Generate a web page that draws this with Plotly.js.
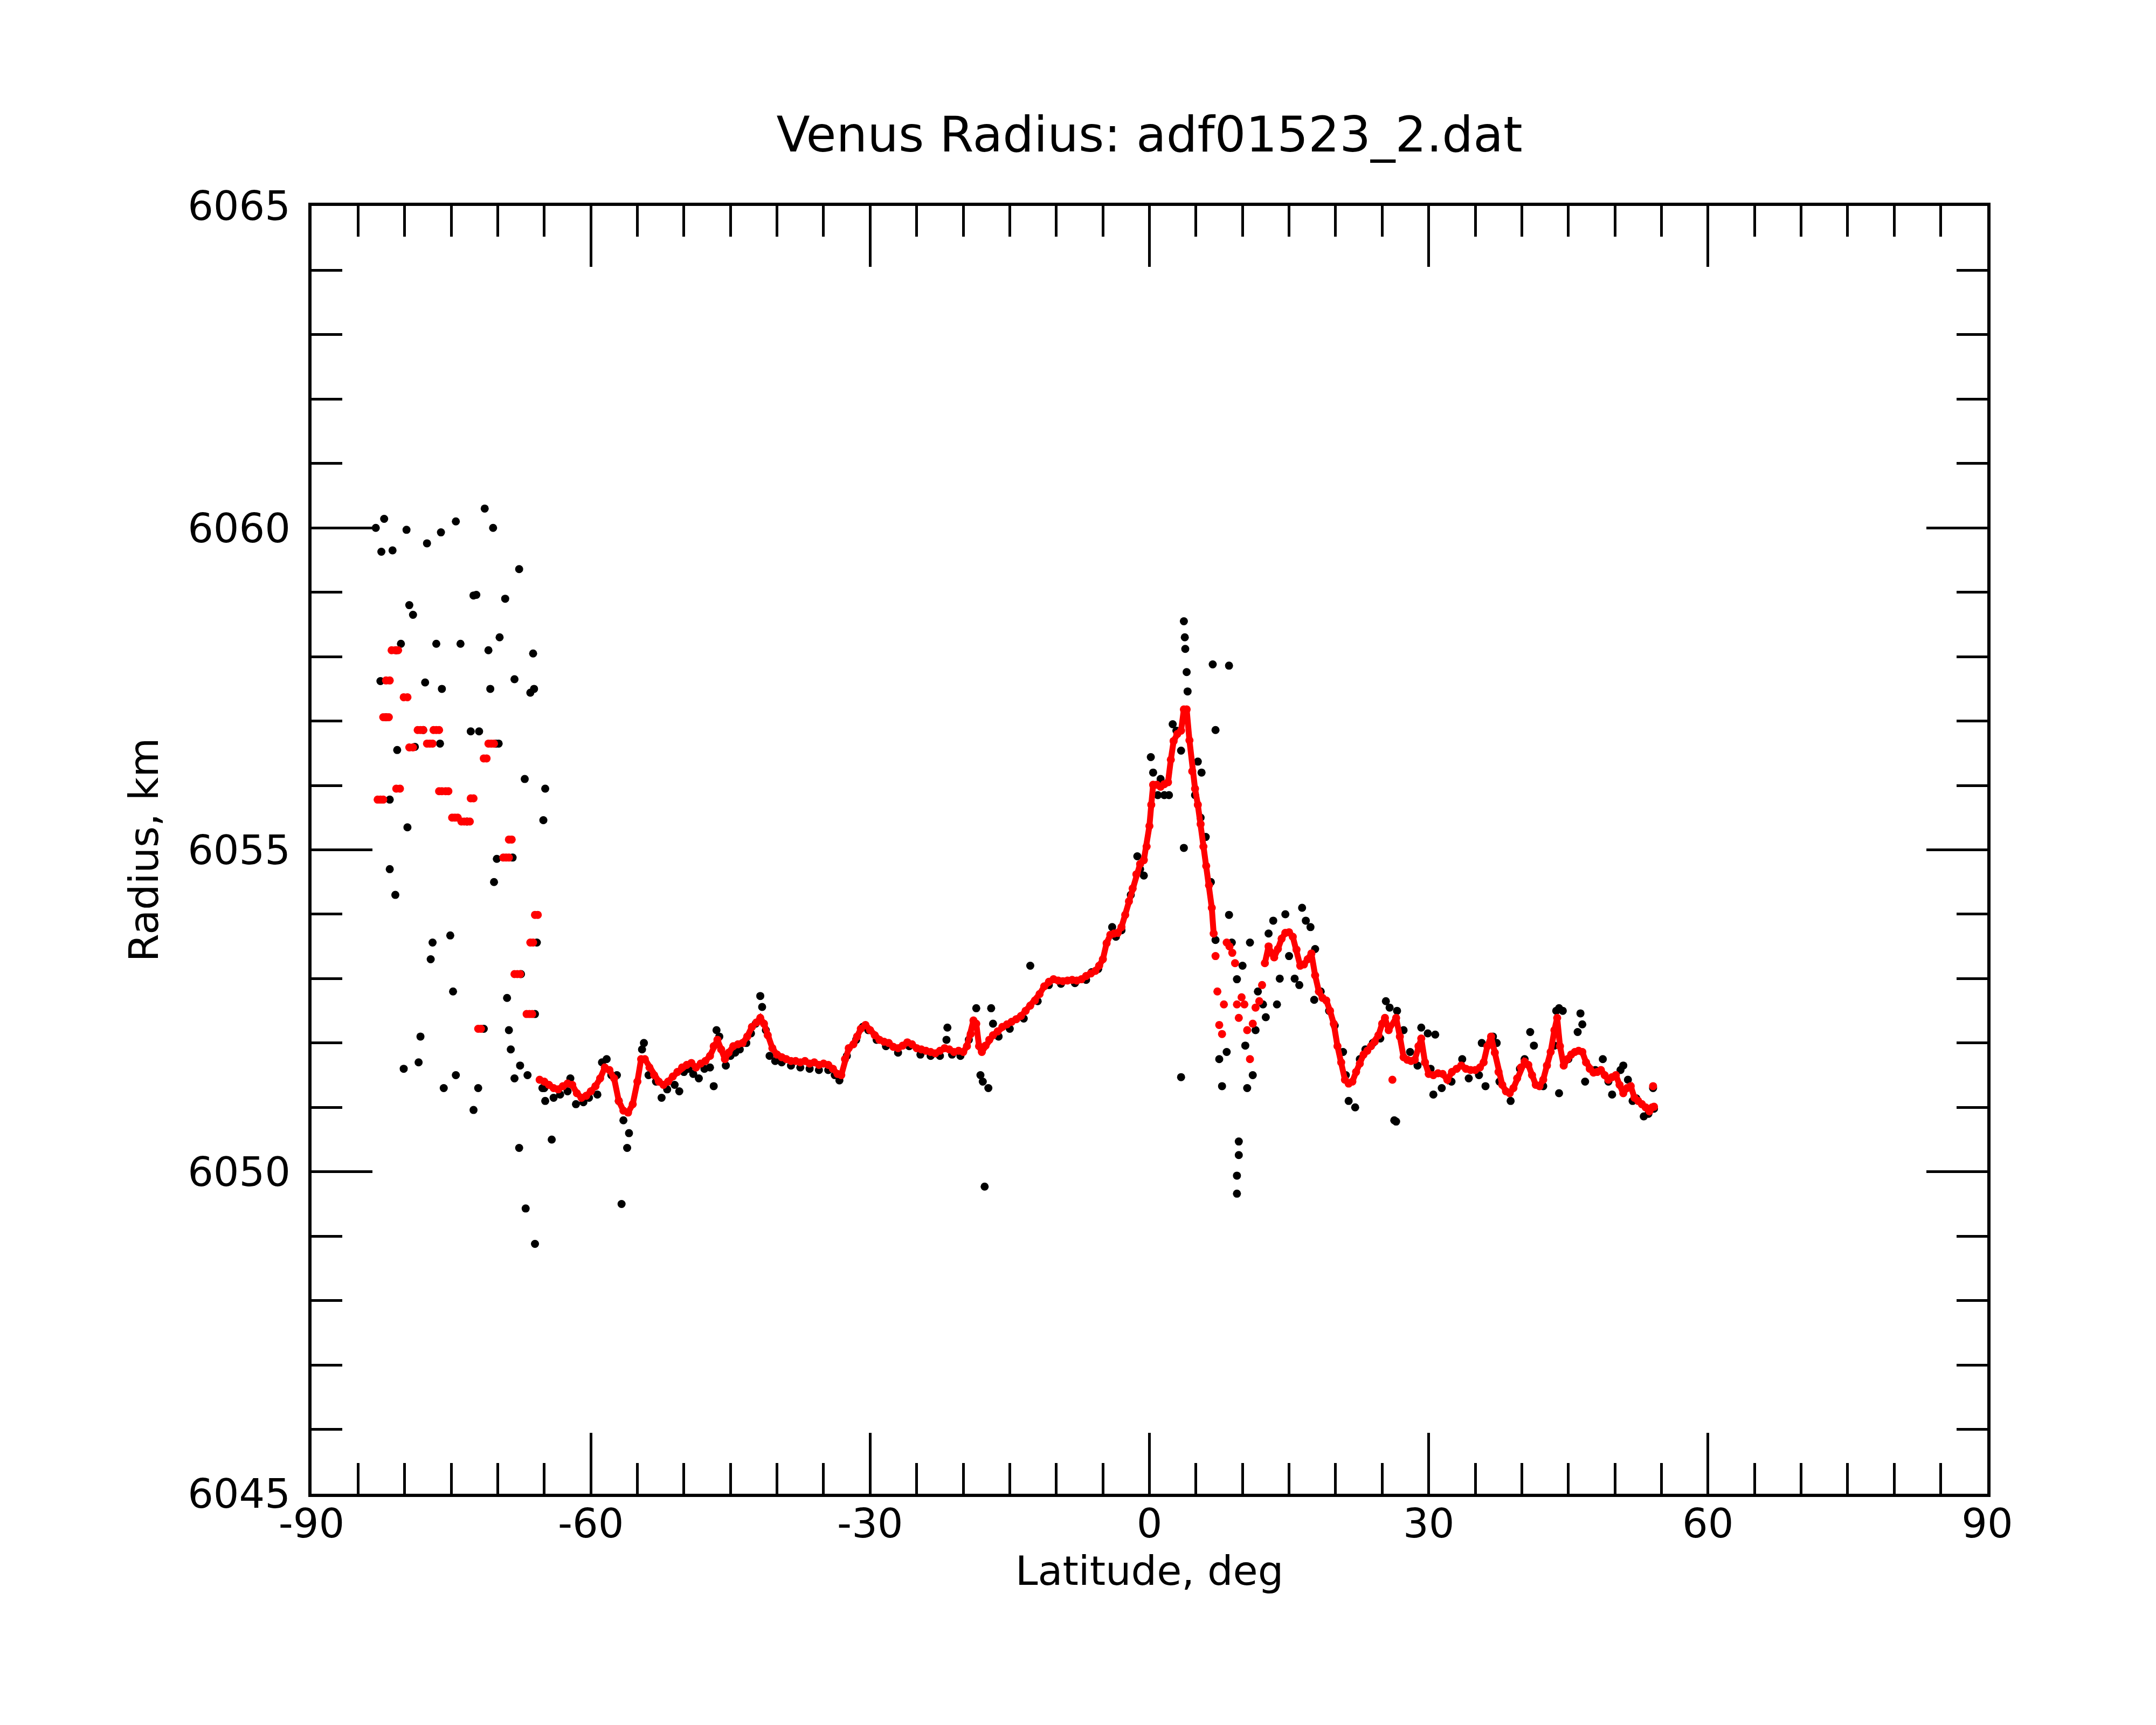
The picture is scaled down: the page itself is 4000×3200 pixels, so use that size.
<!DOCTYPE html>
<html>
<head>
<meta charset="utf-8">
<script src="https://cdn.plot.ly/plotly-3.0.1.min.js"></script>
<style>
  body { margin: 0; background: #ffffff; }
  #radius-chart { width: 4000px; height: 3200px; }
</style>
</head>
<body>
<div id="radius-chart"></div>
<script>
// tick labels
const xTickVals = [-90, -60, -30, 0, 30, 60, 90];
const xTickText = ["-90", "-60", "-30", "0", "30", "60", "90"];
const yTickVals = [6045, 6050, 6055, 6060, 6065];
const yTickText = ["6045", "6050", "6055", "6060", "6065"];

// smoothed radius (red), scattered dots: [latitude, radius]
const redDotPts = [
  // south end clusters
  [-82.9, 6055.78], [-82.6, 6055.78], [-82.3, 6055.78],
  [-82.3, 6057.06], [-82.0, 6057.06], [-81.7, 6057.06],
  [-82.0, 6057.63], [-81.6, 6057.63],
  [-81.4, 6058.10], [-81.0, 6058.10], [-80.7, 6058.10],
  [-80.9, 6055.95], [-80.5, 6055.95],
  [-80.1, 6057.37], [-79.7, 6057.37],
  [-79.5, 6056.59], [-79.1, 6056.59],
  [-78.6, 6056.86], [-78.3, 6056.86], [-78.0, 6056.86],
  [-77.6, 6056.65], [-77.3, 6056.65], [-77.0, 6056.65],
  [-76.9, 6056.86], [-76.6, 6056.86], [-76.3, 6056.86],
  [-76.3, 6055.91], [-76.0, 6055.91],
  [-75.6, 6055.91], [-75.3, 6055.91],
  [-74.9, 6055.50], [-74.6, 6055.50], [-74.3, 6055.50],
  [-73.9, 6055.44], [-73.6, 6055.44], [-73.3, 6055.44], [-73.0, 6055.44],
  [-72.9, 6055.80], [-72.6, 6055.80],
  [-72.1, 6052.22], [-71.8, 6052.22],
  [-71.5, 6056.42], [-71.2, 6056.42],
  [-71.0, 6056.65], [-70.7, 6056.65], [-70.4, 6056.65],
  [-69.4, 6054.88], [-69.1, 6054.88], [-68.8, 6054.88],
  [-68.8, 6055.16], [-68.5, 6055.16],
  [-68.2, 6053.07], [-67.9, 6053.07], [-67.6, 6053.07],
  [-66.5, 6053.56], [-66.2, 6053.56],
  [-66.0, 6053.99], [-65.7, 6053.99],
  [-66.9, 6052.45], [-66.6, 6052.45], [-66.3, 6052.45],
  // broken stretch north of the equatorial peak
  [7.1, 6053.35], [7.3, 6052.80], [7.5, 6052.28], [7.8, 6052.14], [8.0, 6052.60],
  [8.3, 6053.56], [8.6, 6053.50], [8.9, 6053.40], [9.2, 6053.24], [9.4, 6052.60],
  [9.6, 6052.39], [9.9, 6052.71], [10.2, 6052.60], [10.5, 6052.20], [10.8, 6051.75],
  [11.1, 6052.30], [11.4, 6052.55], [11.8, 6052.65], [12.1, 6052.90],
  // single low and high dots
  [26.1, 6051.43], [54.1, 6051.33]
];

// smoothed radius (red), continuous track south of 7 deg: [latitude, radius]
const redTrackSouthPts = [
  [-65.5, 6051.43], [-65.0, 6051.40], [-64.5, 6051.35], [-64.0, 6051.30], [-63.5, 6051.28],
  [-63.0, 6051.33], [-62.5, 6051.37], [-62.0, 6051.35], [-61.5, 6051.22], [-61.0, 6051.15],
  [-60.5, 6051.18], [-60.0, 6051.25], [-59.5, 6051.33], [-59.0, 6051.45], [-58.5, 6051.62],
  [-58.0, 6051.58], [-57.5, 6051.45], [-57.0, 6051.10], [-56.5, 6050.95], [-56.0, 6050.92],
  [-55.5, 6051.05], [-55.0, 6051.40], [-54.6, 6051.75], [-54.2, 6051.75], [-53.7, 6051.62],
  [-53.2, 6051.50], [-52.7, 6051.40], [-52.2, 6051.35], [-51.7, 6051.40], [-51.2, 6051.48],
  [-50.7, 6051.55], [-50.2, 6051.62], [-49.7, 6051.66], [-49.2, 6051.69], [-48.7, 6051.62],
  [-48.2, 6051.68], [-47.7, 6051.72], [-47.2, 6051.80], [-46.8, 6051.95], [-46.4, 6052.05],
  [-46.0, 6051.90], [-45.6, 6051.75], [-45.2, 6051.85], [-44.7, 6051.95], [-44.2, 6051.98],
  [-43.7, 6052.00], [-43.2, 6052.10], [-42.7, 6052.25], [-42.2, 6052.32], [-41.8, 6052.39],
  [-41.4, 6052.30], [-41.0, 6052.12], [-40.5, 6051.92], [-40.0, 6051.82], [-39.5, 6051.78],
  [-39.0, 6051.75], [-38.5, 6051.72], [-38.0, 6051.72], [-37.5, 6051.70], [-37.0, 6051.72],
  [-36.5, 6051.68], [-36.0, 6051.70], [-35.5, 6051.66], [-35.0, 6051.68], [-34.5, 6051.66],
  [-34.0, 6051.60], [-33.5, 6051.52], [-33.1, 6051.50], [-32.7, 6051.75], [-32.3, 6051.92],
  [-31.8, 6051.98], [-31.4, 6052.10], [-31.0, 6052.22], [-30.5, 6052.28], [-30.0, 6052.20],
  [-29.5, 6052.12], [-29.0, 6052.05], [-28.5, 6052.02], [-28.0, 6052.00], [-27.5, 6051.94],
  [-27.0, 6051.92], [-26.5, 6051.96], [-26.0, 6052.01], [-25.5, 6051.98], [-25.0, 6051.92],
  [-24.5, 6051.90], [-24.0, 6051.88], [-23.5, 6051.86], [-23.0, 6051.84], [-22.5, 6051.88],
  [-22.0, 6051.92], [-21.5, 6051.90], [-21.0, 6051.86], [-20.5, 6051.88], [-20.0, 6051.86],
  [-19.6, 6051.95], [-19.2, 6052.14], [-18.9, 6052.35], [-18.6, 6052.30], [-18.3, 6051.95],
  [-18.0, 6051.86], [-17.6, 6051.96], [-17.2, 6052.05], [-16.8, 6052.12], [-16.3, 6052.18],
  [-15.8, 6052.25], [-15.3, 6052.29], [-14.8, 6052.33], [-14.3, 6052.37], [-13.8, 6052.42],
  [-13.3, 6052.50], [-12.8, 6052.58], [-12.3, 6052.66], [-11.8, 6052.76], [-11.3, 6052.88],
  [-10.8, 6052.95], [-10.3, 6052.99], [-9.8, 6052.97], [-9.3, 6052.96], [-8.8, 6052.97],
  [-8.3, 6052.98], [-7.8, 6052.97], [-7.3, 6052.99], [-6.8, 6053.04], [-6.3, 6053.08],
  [-5.8, 6053.12], [-5.4, 6053.20], [-5.0, 6053.30], [-4.6, 6053.55], [-4.2, 6053.68],
  [-3.8, 6053.70], [-3.4, 6053.71], [-3.0, 6053.80], [-2.6, 6053.99], [-2.2, 6054.20],
  [-1.8, 6054.40], [-1.4, 6054.62], [-1.0, 6054.78], [-0.6, 6054.84], [-0.3, 6055.05],
  [0.0, 6055.37], [0.2, 6055.70], [0.4, 6056.01], [0.8, 6056.01], [1.2, 6055.98],
  [1.6, 6056.02], [2.0, 6056.05], [2.3, 6056.40], [2.6, 6056.69], [3.0, 6056.80],
  [3.4, 6056.85], [3.7, 6057.18], [4.0, 6057.18], [4.3, 6056.70], [4.6, 6056.22],
  [4.9, 6055.95], [5.2, 6055.70], [5.5, 6055.40], [5.8, 6055.05], [6.1, 6054.75],
  [6.4, 6054.45], [6.7, 6054.10], [6.9, 6053.70]
];

// smoothed radius (red), continuous track north of 12 deg: [latitude, radius]
const redTrackNorthPts = [
  [12.4, 6053.24], [12.8, 6053.50], [13.1, 6053.40],
  [13.4, 6053.33], [13.8, 6053.46], [14.2, 6053.62], [14.6, 6053.71], [15.0, 6053.72],
  [15.4, 6053.65], [15.8, 6053.45], [16.2, 6053.20], [16.6, 6053.22], [17.0, 6053.30],
  [17.4, 6053.39], [17.8, 6053.05], [18.2, 6052.80], [18.6, 6052.70], [19.0, 6052.66],
  [19.4, 6052.50], [19.8, 6052.30], [20.2, 6051.95], [20.6, 6051.70], [21.0, 6051.43],
  [21.4, 6051.37], [21.8, 6051.40], [22.2, 6051.55], [22.6, 6051.68], [23.0, 6051.82],
  [23.4, 6051.88], [23.8, 6051.95], [24.2, 6052.02], [24.6, 6052.12], [25.0, 6052.30],
  [25.3, 6052.39], [25.7, 6052.20], [26.5, 6052.39], [26.9, 6052.10],
  [27.3, 6051.78], [27.7, 6051.74], [28.1, 6051.72], [28.5, 6051.74], [28.9, 6051.95],
  [29.2, 6052.07], [29.6, 6051.70], [30.0, 6051.52], [30.5, 6051.50], [31.0, 6051.53],
  [31.5, 6051.52], [32.0, 6051.43], [32.5, 6051.55], [33.0, 6051.60], [33.5, 6051.65],
  [34.0, 6051.60], [34.5, 6051.58], [35.0, 6051.58], [35.5, 6051.62], [35.9, 6051.70],
  [36.3, 6051.95], [36.7, 6052.10], [37.1, 6051.85], [37.5, 6051.55], [37.9, 6051.35],
  [38.3, 6051.25], [38.7, 6051.22], [39.1, 6051.30], [39.5, 6051.45], [39.9, 6051.62],
  [40.3, 6051.71], [40.7, 6051.66], [41.1, 6051.50], [41.5, 6051.35], [41.9, 6051.33],
  [42.3, 6051.43], [42.7, 6051.65], [43.1, 6051.86], [43.5, 6052.20], [43.8, 6052.39],
  [44.1, 6051.95], [44.5, 6051.65], [44.9, 6051.75], [45.3, 6051.82], [45.7, 6051.86],
  [46.1, 6051.88], [46.5, 6051.86], [46.9, 6051.70], [47.3, 6051.60], [47.7, 6051.54],
  [48.1, 6051.55], [48.5, 6051.58], [48.9, 6051.50], [49.3, 6051.43], [49.7, 6051.47],
  [50.1, 6051.50], [50.5, 6051.35], [50.9, 6051.22], [51.3, 6051.30], [51.7, 6051.33],
  [52.1, 6051.15], [52.5, 6051.10], [52.9, 6051.05], [53.3, 6051.00], [53.7, 6050.94],
  [54.0, 6051.00], [54.2, 6051.01]
];

// raw radius samples (black): [latitude, radius]
const blackPts = [
  // south end scatter
  [-83.1, 6060.00], [-82.2, 6060.14], [-82.5, 6059.63], [-81.3, 6059.65], [-79.8, 6059.97],
  [-77.6, 6059.76], [-76.1, 6059.93], [-74.5, 6060.10], [-71.4, 6060.30], [-70.5, 6060.00],
  [-72.6, 6058.95], [-72.3, 6058.96], [-69.2, 6058.90], [-67.7, 6059.36], [-79.5, 6058.80],
  [-79.1, 6058.65], [-80.4, 6058.20], [-80.9, 6058.10], [-76.6, 6058.20], [-74.0, 6058.20],
  [-71.0, 6058.10], [-69.8, 6058.30], [-66.2, 6058.05], [-77.8, 6057.60], [-76.0, 6057.50],
  [-70.8, 6057.50], [-68.2, 6057.65], [-66.5, 6057.44], [-66.1, 6057.50], [-72.9, 6056.84],
  [-72.0, 6056.84], [-69.9, 6056.65], [-64.9, 6055.95], [-67.1, 6056.10], [-81.6, 6055.78],
  [-65.1, 6055.46], [-79.7, 6055.35], [-70.1, 6054.86], [-70.4, 6054.50], [-81.6, 6054.70],
  [-81.0, 6054.30], [-77.0, 6053.56], [-77.2, 6053.30], [-75.1, 6053.67], [-74.8, 6052.80],
  [-69.0, 6052.70], [-68.8, 6052.20], [-68.6, 6051.90], [-67.6, 6051.65], [-78.3, 6052.10],
  [-78.5, 6051.70], [-80.1, 6051.60], [-74.5, 6051.50], [-75.8, 6051.30], [-72.1, 6051.30],
  [-72.6, 6050.96], [-67.7, 6050.37], [-67.0, 6049.43], [-66.0, 6048.88], [-64.2, 6050.50],
  [-64.9, 6051.10], [-65.2, 6051.30], [-66.8, 6051.50], [-68.2, 6051.45],
  [-82.0, 6057.06], [-80.8, 6056.55], [-78.0, 6056.86], [-76.2, 6056.65], [-73.3, 6055.44],
  [-71.5, 6052.22], [-70.2, 6056.65], [-68.4, 6054.88], [-67.5, 6053.07], [-65.8, 6053.56],
  [-66.0, 6052.45], [-82.6, 6057.62], [-78.9, 6056.60],
  // southern plains
  [-65.0, 6051.30], [-64.0, 6051.15], [-63.3, 6051.20], [-62.5, 6051.25], [-62.2, 6051.45],
  [-61.6, 6051.05], [-60.8, 6051.08], [-60.2, 6051.15], [-59.3, 6051.20], [-58.8, 6051.70],
  [-58.3, 6051.75], [-57.8, 6051.50], [-57.2, 6051.50], [-56.7, 6049.50], [-56.1, 6050.37],
  [-55.9, 6050.60], [-56.5, 6050.80], [-57.0, 6051.10], [-54.3, 6052.00], [-54.5, 6051.90],
  [-53.8, 6051.50], [-53.0, 6051.40], [-52.4, 6051.15], [-51.8, 6051.28], [-51.0, 6051.35],
  [-50.5, 6051.25], [-50.0, 6051.55], [-49.5, 6051.60], [-49.0, 6051.52], [-48.4, 6051.45],
  [-47.8, 6051.60], [-47.2, 6051.62], [-46.8, 6051.33], [-46.5, 6052.20], [-46.2, 6052.10],
  [-45.5, 6051.65], [-45.0, 6051.80], [-44.5, 6051.85], [-44.0, 6051.90], [-43.3, 6052.00],
  [-42.8, 6052.15], [-42.3, 6052.30], [-41.8, 6052.73], [-41.6, 6052.56], [-41.2, 6052.20],
  [-40.8, 6051.80], [-40.2, 6051.72], [-39.5, 6051.70], [-38.5, 6051.65], [-37.5, 6051.62],
  [-36.5, 6051.60], [-35.5, 6051.58], [-34.5, 6051.58], [-33.8, 6051.50], [-33.3, 6051.42],
  [-32.5, 6051.80], [-31.5, 6052.05], [-30.8, 6052.25], [-30.2, 6052.20], [-29.3, 6052.05],
  [-28.3, 6051.95], [-27.0, 6051.85], [-25.8, 6051.95], [-24.6, 6051.82], [-23.5, 6051.80],
  [-22.5, 6051.80], [-21.7, 6052.24], [-21.8, 6052.05], [-21.2, 6051.82], [-20.3, 6051.80],
  [-19.4, 6052.05], [-18.6, 6052.54], [-18.15, 6051.50], [-17.9, 6051.40], [-17.3, 6051.30],
  [-17.7, 6049.77], [-17.0, 6052.54], [-16.8, 6052.30], [-16.2, 6052.10], [-15.0, 6052.22],
  [-13.5, 6052.38], [-12.8, 6053.20], [-12.0, 6052.65], [-10.8, 6052.90], [-9.5, 6052.92],
  [-8.0, 6052.93], [-6.8, 6052.98], [-6.2, 6053.10], [-5.5, 6053.15], [-4.0, 6053.80],
  [-3.6, 6053.65], [-3.0, 6053.75], [-2.0, 6054.30], [-1.3, 6054.90], [-0.6, 6054.60],
  [-1.0, 6054.70],
  // equatorial rise and north
  [0.15, 6056.44], [0.4, 6056.20], [0.9, 6055.85], [1.6, 6055.85], [2.1, 6055.85],
  [1.2, 6056.10], [2.5, 6056.95], [2.9, 6056.85], [3.4, 6056.54], [3.7, 6058.55],
  [3.8, 6058.30], [3.85, 6058.12], [4.0, 6057.76], [4.1, 6057.46], [3.7, 6055.03],
  [3.4, 6051.47], [5.2, 6056.37], [5.6, 6056.20], [4.9, 6055.85], [5.5, 6055.50],
  [6.05, 6055.20], [6.8, 6057.88], [8.55, 6057.86], [7.1, 6056.86], [6.6, 6054.50],
  [7.1, 6053.60], [7.5, 6051.75], [7.8, 6051.33], [8.3, 6051.86], [8.55, 6053.99],
  [8.85, 6053.56], [9.4, 6052.99], [9.6, 6050.47], [9.6, 6050.26], [9.4, 6049.94],
  [9.4, 6049.66], [10.0, 6053.20], [10.8, 6053.56], [10.3, 6051.96], [10.5, 6051.30],
  [11.1, 6051.50], [11.4, 6052.20], [11.65, 6052.80], [12.2, 6052.60], [12.5, 6052.40],
  [12.8, 6053.70], [13.3, 6053.90], [13.7, 6052.60], [14.0, 6053.00], [14.6, 6054.00],
  [15.0, 6053.35], [15.6, 6053.00], [16.4, 6054.10], [16.8, 6053.90], [16.1, 6052.90],
  [17.3, 6053.80], [17.8, 6053.46], [17.7, 6052.67], [18.4, 6052.80], [19.3, 6052.50],
  [19.9, 6052.27], [20.8, 6051.86], [21.1, 6051.50], [21.4, 6051.10], [22.1, 6051.00],
  [22.6, 6051.75], [23.2, 6051.90], [24.0, 6052.00], [24.8, 6052.07], [25.4, 6052.65],
  [25.8, 6052.55], [26.6, 6052.50], [26.3, 6050.80], [26.5, 6050.78], [27.3, 6052.20],
  [28.0, 6051.86], [28.8, 6051.65], [29.2, 6052.24], [29.9, 6052.15], [30.7, 6052.13],
  [30.5, 6051.20], [30.2, 6051.60], [31.4, 6051.30], [32.45, 6051.40], [33.6, 6051.75],
  [34.3, 6051.45], [35.4, 6051.50], [35.7, 6052.00], [36.1, 6051.33], [36.9, 6052.10],
  [37.3, 6052.00], [37.6, 6051.40], [38.8, 6051.10], [39.8, 6051.60], [40.3, 6051.75],
  [40.9, 6052.17], [41.3, 6051.96], [42.3, 6051.33], [43.5, 6051.96], [43.7, 6052.50],
  [44.0, 6052.54], [44.4, 6052.50], [44.0, 6051.22], [45.0, 6051.75], [46.0, 6052.17],
  [46.3, 6052.46], [46.5, 6052.29], [46.8, 6051.40], [47.9, 6051.58], [48.7, 6051.75],
  [49.3, 6051.40], [49.7, 6051.20], [50.6, 6051.58], [50.9, 6051.65], [51.4, 6051.43],
  [51.9, 6051.10], [52.3, 6051.14], [53.1, 6050.86], [53.6, 6050.90], [54.1, 6051.30],
  [54.2, 6050.98]
];

var dotSize = 15;

var rawTrace = {
  x: blackPts.map(p => p[0]),
  y: blackPts.map(p => p[1]),
  type: "scatter",
  mode: "markers",
  hoverinfo: "x+y",
  marker: { color: "#000000", size: dotSize },
};

var redDotTrace = {
  x: redDotPts.map(p => p[0]),
  y: redDotPts.map(p => p[1]),
  type: "scatter",
  mode: "markers",
  hoverinfo: "x+y",
  marker: { color: "#ff0000", size: dotSize },
};

// the smoothed track is sampled densely in the original, so its dots run together
function trackTrace(pts) {
  return {
    x: pts.map(p => p[0]),
    y: pts.map(p => p[1]),
    type: "scatter",
    mode: "lines+markers",
    hoverinfo: "x+y",
    line: { color: "#ff0000", width: 11 },
    marker: { color: "#ff0000", size: dotSize },
  };
}

var font = { family: "DejaVu Sans", size: 75, color: "#000000" };

var layout = {
  width: 4000,
  height: 3200,
  margin: { l: 578, r: 313, t: 382, b: 429 },
  paper_bgcolor: "#ffffff",
  plot_bgcolor: "#ffffff",
  showlegend: false,
  font: font,
  title: {
    text: "Venus Radius: adf01523_2.dat",
    font: { family: "DejaVu Sans", size: 91, color: "#000000" },
    x: 0.5,
    xref: "paper",
    y: 0.9222,
    yref: "container",
    yanchor: "middle",
  },
  xaxis: {
    range: [-90, 90],
    tickmode: "array",
    tickvals: xTickVals,
    ticktext: xTickText,
    ticks: "inside",
    ticklen: 113,
    tickwidth: 5,
    tickcolor: "#000000",
    minor: { tickmode: "linear", tick0: -90, dtick: 5, ticks: "inside", ticklen: 57, tickwidth: 5, tickcolor: "#000000", showgrid: false },
    showline: true,
    linewidth: 6,
    linecolor: "#000000",
    mirror: "ticks",
    showgrid: false,
    zeroline: false,
    tickfont: font,
    ticklabelstandoff: -15,
    title: { text: "Latitude, deg", font: font, standoff: 12 },
    automargin: false,
  },
  yaxis: {
    range: [6045, 6065],
    tickmode: "array",
    tickvals: yTickVals,
    ticktext: yTickText,
    ticks: "inside",
    ticklen: 113,
    tickwidth: 5,
    tickcolor: "#000000",
    minor: { tickmode: "linear", tick0: 6045, dtick: 1, ticks: "inside", ticklen: 57, tickwidth: 5, tickcolor: "#000000", showgrid: false },
    showline: true,
    linewidth: 6,
    linecolor: "#000000",
    mirror: "ticks",
    showgrid: false,
    zeroline: false,
    tickfont: font,
    ticklabelstandoff: 18,
    title: { text: "Radius, km", font: font, standoff: 32 },
    automargin: false,
  },
};

var config = { displayModeBar: false, responsive: false, staticPlot: true };

Plotly.newPlot(
  "radius-chart",
  [rawTrace, redDotTrace, trackTrace(redTrackSouthPts), trackTrace(redTrackNorthPts)],
  layout,
  config
);
</script>
</body>
</html>
